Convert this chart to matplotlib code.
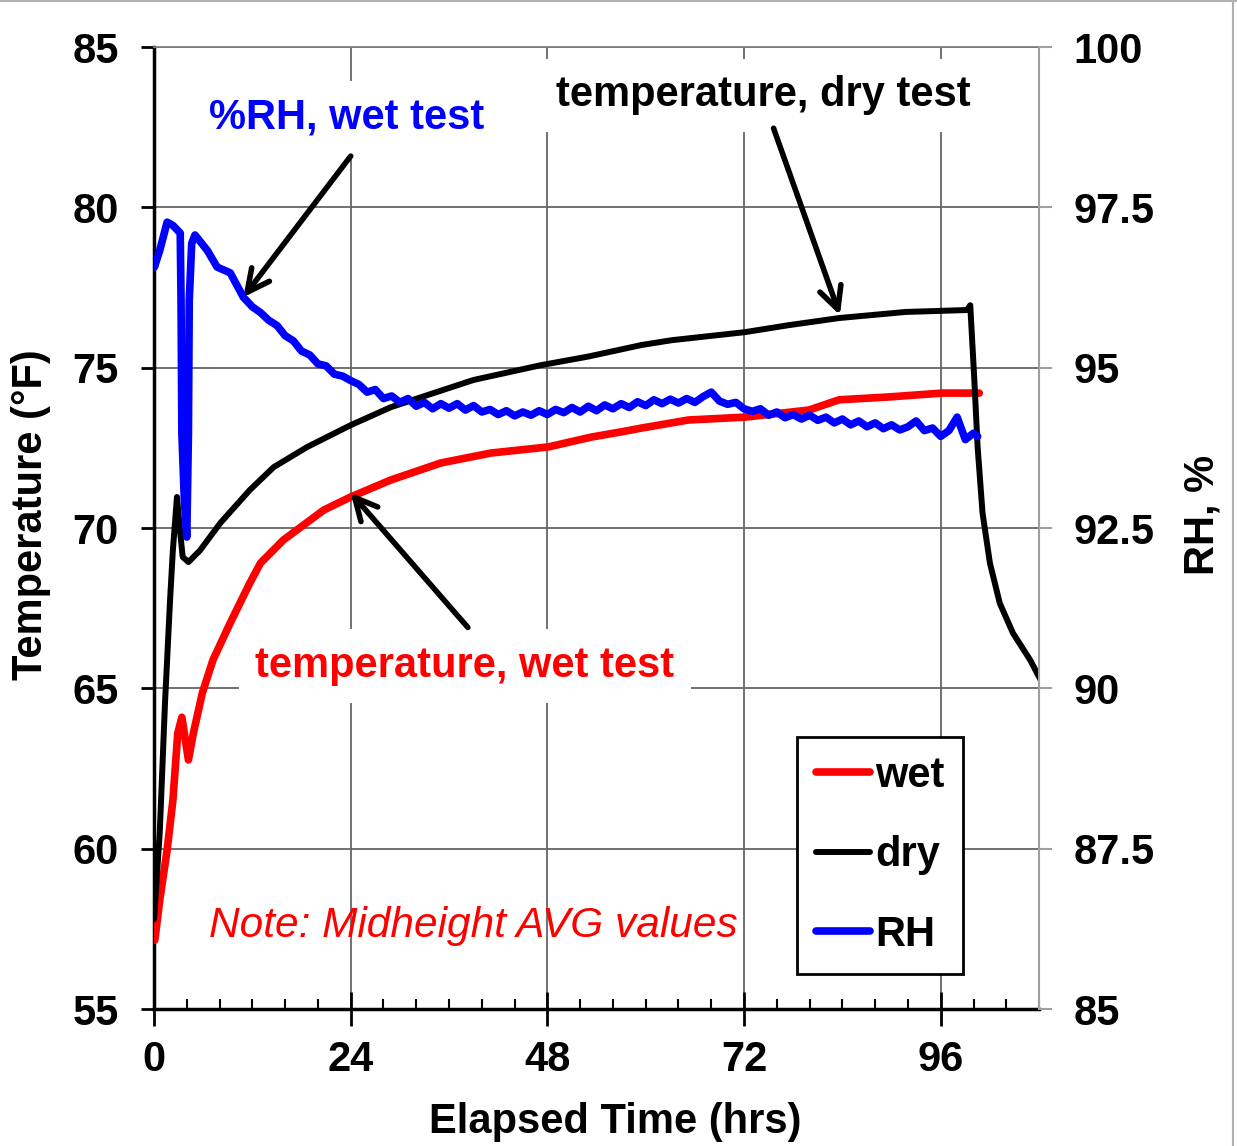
import numpy as np
import matplotlib.pyplot as plt
from matplotlib.ticker import MultipleLocator
from matplotlib.lines import Line2D

plt.rcParams['font.family'] = ['Liberation Sans', 'DejaVu Sans']
plt.rcParams['font.weight'] = 'bold'
plt.rcParams['axes.labelweight'] = 'bold'
plt.rcParams['font.size'] = 30

# -----------------------------
# 1. DATA
# -----------------------------
wet_hrs = [0.1, 0.7, 1.6, 2.3, 2.9, 3.4, 3.7, 4.2, 4.8, 5.9, 7.2, 9.3, 11.7, 13.0,
           15.8, 20.7, 24.0, 28.9, 35.0, 41.1, 48.1, 53.4, 57.0, 59.5, 65.2, 72.1,
           79.9, 83.6, 89.7, 96.2, 100.7]
wet_temp = [57.15, 58.4, 59.96, 61.5, 63.6, 64.1, 63.6, 62.77, 63.6, 64.86, 65.89,
            67.04, 68.29, 68.91, 69.63, 70.56, 70.97, 71.5, 72.03, 72.34, 72.53,
            72.84, 73.0, 73.12, 73.37, 73.46, 73.68, 74.0, 74.09, 74.21, 74.21]

dry_hrs = [0.0, 0.7, 1.35, 1.96, 2.3, 2.8, 3.2, 3.5, 4.2, 5.6, 8.1, 11.7, 14.6, 18.7,
           24.0, 28.9, 33.4, 39.0, 47.2, 53.0, 59.5, 63.2, 72.1, 77.5, 83.6, 91.7,
           99.2, 99.6, 100.1, 100.5, 101.1, 102.0, 103.2, 104.8, 106.9, 108.2]
dry_temp = [57.8, 60.5, 64.6, 67.76, 69.3, 70.97, 69.85, 69.1, 68.94, 69.3, 70.16,
            71.19, 71.9, 72.53, 73.21, 73.77, 74.15, 74.62, 75.08, 75.35, 75.71,
            75.86, 76.11, 76.33, 76.55, 76.74, 76.8, 76.95, 74.62, 72.53, 70.47,
            68.91, 67.66, 66.73, 65.89, 65.26]

rh_hrs = [0.05, 0.7, 1.6, 2.3, 3.2, 3.3, 3.4, 3.7, 4.0, 4.2, 4.3, 4.6, 5.0, 6.5,
          7.7, 9.3, 10.9,
          12, 13, 14, 15, 16, 17, 18, 19, 20, 21, 22, 23, 24, 25, 26, 27, 28, 29,
          30, 31, 32, 33, 34, 35, 36, 37, 38, 39, 40, 41, 42, 43, 44, 45, 46, 47,
          48, 49, 50, 51, 52, 53, 54, 55, 56, 57, 58, 59, 60, 61, 62, 63, 64, 65,
          66, 67, 68, 69, 70, 71, 72, 73, 74, 75, 76, 77, 78, 79, 80, 81, 82, 83,
          84, 85, 86, 87, 88, 89, 90, 91, 92, 93, 94, 95, 96, 97, 98, 99, 100, 100.5]
rh_vals = [96.57, 96.83, 97.27, 97.22, 97.10, 96.05, 93.98, 92.94, 92.36, 93.98,
           96.05, 96.94, 97.07, 96.83, 96.57, 96.48, 96.10,
           95.95, 95.86, 95.74, 95.66, 95.50, 95.42, 95.26, 95.20, 95.06, 95.03,
           94.90, 94.87, 94.80, 94.74, 94.62, 94.66, 94.52, 94.56, 94.46, 94.52,
           94.40, 94.46, 94.36, 94.44, 94.37, 94.44, 94.34, 94.41, 94.31, 94.35,
           94.27, 94.33, 94.25, 94.31, 94.26, 94.33, 94.27, 94.35, 94.30, 94.38,
           94.31, 94.40, 94.33, 94.42, 94.36, 94.44, 94.38, 94.47, 94.41, 94.50,
           94.44, 94.51, 94.45, 94.52, 94.46, 94.55, 94.62, 94.48, 94.43, 94.46,
           94.36, 94.32, 94.36, 94.26, 94.31, 94.22, 94.27, 94.20, 94.26, 94.18,
           94.23, 94.14, 94.20, 94.11, 94.17, 94.08, 94.14, 94.05, 94.11, 94.03,
           94.08, 94.17, 94.02, 94.06, 93.93, 94.02, 94.23, 93.88, 93.98, 93.93]

x_ticks = [0, 24, 48, 72, 96]
temp_ticks = [55, 60, 65, 70, 75, 80, 85]
rh_ticks = [85, 87.5, 90, 92.5, 95, 97.5, 100]
rh_labels = ['85', '87.5', '90', '92.5', '95', '97.5', '100']

# -----------------------------
# 2. FIGURE / AXES
# -----------------------------
fig = plt.figure(figsize=(12.37, 11.46), dpi=100)
# thin frame on the top and right edge of the picture
fig.add_artist(Line2D([0, 1], [0.999, 0.999], color='#b0b0b0', lw=1.5))
fig.add_artist(Line2D([0.9965, 0.9965], [0, 1], color='#b0b0b0', lw=1.5))

ax = fig.add_axes([0.1245, 0.1195, 0.7155, 0.8394])
ax2 = ax.twinx()

l_wet, = ax.plot(wet_hrs, wet_temp, color='red', lw=5.5, solid_capstyle='round', zorder=3)
l_dry, = ax.plot(dry_hrs, dry_temp, color='black', lw=4.3, solid_capstyle='round', zorder=3)
l_rh, = ax2.plot(rh_hrs, rh_vals, color='blue', lw=5.5, solid_capstyle='round', zorder=3)

ax.set_xlim(0, 108)
ax.set_ylim(55, 85)
ax2.set_ylim(85, 100)

ax.set_xticks(x_ticks)
ax.xaxis.set_minor_locator(MultipleLocator(4))
ax.set_yticks(temp_ticks)
ax2.set_yticks(rh_ticks)
ax2.set_yticklabels(rh_labels)

ax.grid(True, which='major', color='#666666', lw=1.3)

ax.tick_params(axis='y', which='major', direction='out', length=9.5, width=2, pad=16)
ax.tick_params(axis='x', which='major', direction='inout', length=24, width=2, pad=10)
ax.tick_params(axis='x', which='minor', direction='in', length=7, width=1.5)
ax2.tick_params(axis='y', direction='out', length=9, width=1.5, color='#a0a0a0', pad=16)

for s in ['left', 'bottom']:
    ax.spines[s].set_linewidth(2.5)
ax.spines['top'].set_color('#808080')
ax.spines['top'].set_linewidth(1.3)
ax.spines['right'].set_visible(False)
for s in ['left', 'bottom', 'top']:
    ax2.spines[s].set_visible(False)
ax2.spines['right'].set_color('#a0a0a0')
ax2.spines['right'].set_linewidth(1.5)

ax.set_xlabel('Elapsed Time (hrs)', labelpad=16)
ax.xaxis.label.set_x(0.521)
ax.set_ylabel('Temperature (°F)', labelpad=15)
ax.yaxis.label.set_y(0.5135)
ax2.set_ylabel('RH, %', labelpad=20)
ax2.yaxis.label.set_y(0.5135)

# -----------------------------
# 3. LABELS AND ARROWS
# -----------------------------
box = dict(facecolor='white', edgecolor='none', pad=12)
ax.text(23.5, 82.8, '%RH, wet test', color='blue', ha='center', va='center', bbox=box, zorder=4)
ax.text(74.3, 83.5, 'temperature, dry test', color='black', ha='center', va='center', bbox=box, zorder=4)
ax.text(37.95, 65.7, 'temperature, wet test', color='red', ha='center', va='center', bbox=box, zorder=4)
ax.text(39.0, 57.6, 'Note: Midheight AVG values', color='red', ha='center', va='center',
        fontweight='normal', style='italic', fontsize=30.5, zorder=4)

arrow = dict(arrowstyle='->', color='black', lw=4, mutation_scale=40, shrinkA=0, shrinkB=0)
ax.annotate('', xy=(10.9, 77.2), xytext=(24.0, 81.6), arrowprops=arrow, zorder=5)
ax.annotate('', xy=(83.7, 76.64), xytext=(75.6, 82.47), arrowprops=arrow, zorder=5)
ax.annotate('', xy=(24.0, 71.1), xytext=(38.3, 66.9), arrowprops=arrow, zorder=5)

# -----------------------------
# 4. LEGEND
# -----------------------------
leg = ax2.legend([l_wet, l_dry, l_rh], ['wet', 'dry', 'RH'], loc='upper left',
                 bbox_to_anchor=(0.7266, 0.2827), borderaxespad=0, fancybox=False,
                 edgecolor='black', framealpha=1, handlelength=1.3, handletextpad=0.12,
                 labelspacing=0.95, borderpad=0.45)
leg.get_frame().set_linewidth(2)

plt.savefig('out.png', dpi=100)
